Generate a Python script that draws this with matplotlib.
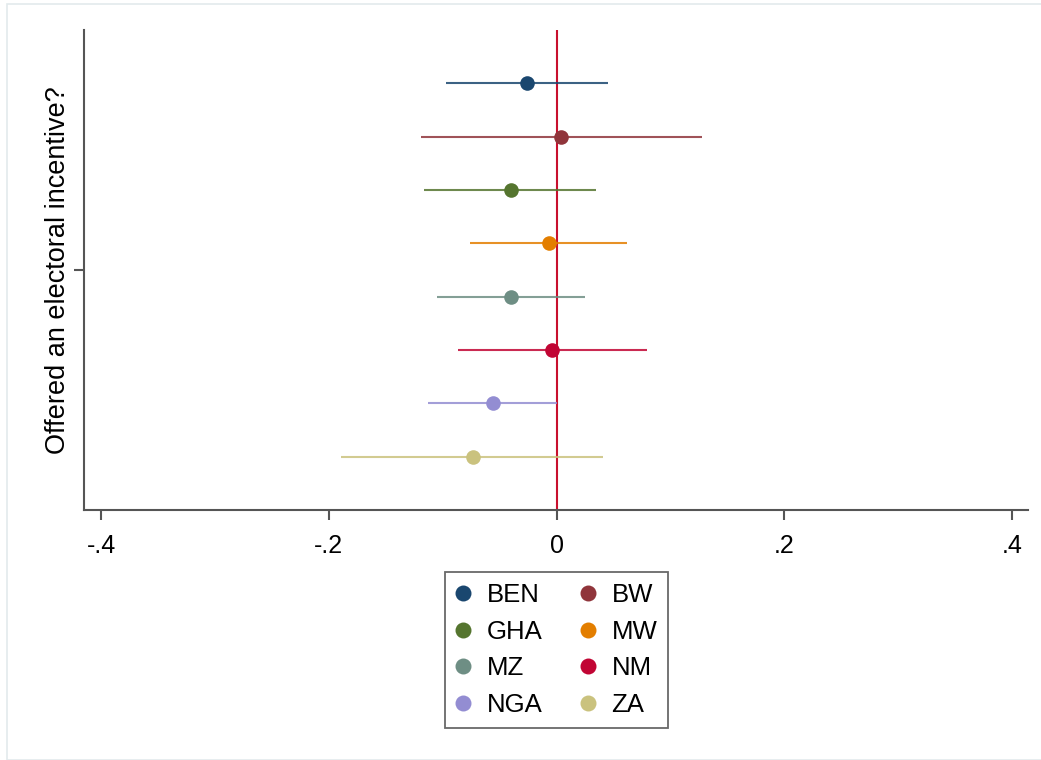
import matplotlib.pyplot as plt
from matplotlib.lines import Line2D
from matplotlib.patches import Rectangle

plt.rcParams['font.family'] = ['Liberation Sans', 'DejaVu Sans']

countries = ["BEN", "BW", "GHA", "MW", "MZ", "NM", "NGA", "ZA"]
coef = [-0.026, 0.004, -0.040, -0.007, -0.040, -0.004, -0.056, -0.073]
ci_low = [-0.097, -0.119, -0.116, -0.076, -0.105, -0.087, -0.113, -0.189]
ci_high = [0.045, 0.128, 0.035, 0.062, 0.025, 0.079, 0.000, 0.041]
colors = ["#1a476f", "#90353b", "#55752f", "#e37e00",
          "#6e8e84", "#c10534", "#938dd2", "#cac27e"]
xticks = [-0.4, -0.2, 0, 0.2, 0.4]
xticklabels = ["-.4", "-.2", "0", ".2", ".4"]

W, H = 1041, 760
fig = plt.figure(figsize=(W / 100, H / 100), dpi=100)
fig.patches.append(Rectangle((7 / W, 0), 1.0, 1 - 4 / H, transform=fig.transFigure,
                             fill=False, edgecolor="#e3eaec", linewidth=1.2))

ax = fig.add_axes([84 / W, 1 - 510 / H, (1028 - 84) / W, (510 - 30) / H])

ax.axvline(0, color="#c8102e", lw=1.5, zorder=1)
for i, c in enumerate(countries):
    y = i + 1
    ax.plot([ci_low[i], ci_high[i]], [y, y], color=colors[i], lw=1.5, alpha=0.85, zorder=2,
            solid_capstyle="butt")
    ax.plot(coef[i], y, "o", color=colors[i], markersize=10.5, markeredgewidth=0, zorder=3)

ax.set_ylim(9, 0)
ax.set_xlim(-0.415, 0.414)
ax.set_yticks([4.5])
ax.set_yticklabels([""])
ax.set_xticks(xticks)
ax.set_xticklabels(xticklabels, fontsize=18)
ax.set_ylabel("Offered an electoral incentive?", fontsize=19.5)
ax.yaxis.set_label_coords(-0.0138, 0.5)

for s in ["top", "right"]:
    ax.spines[s].set_visible(False)
for s in ["left", "bottom"]:
    ax.spines[s].set_color("#555555")
    ax.spines[s].set_linewidth(1.5)
ax.tick_params(axis="both", color="#555555", width=1.5, length=7, pad=10)

# legend is filled column by column, reference reads row by row
order = [0, 2, 4, 6, 1, 3, 5, 7]
handles = [Line2D([], [], marker="o", linestyle="none", color=colors[i],
                  markersize=11.5, markeredgewidth=0) for i in order]
labels = [countries[i] for i in order]
leg = fig.legend(handles, labels, loc="center", bbox_to_anchor=(556.5 / W, 1 - 650 / H),
                 ncol=2, fontsize=18.5, frameon=True, fancybox=False, handlelength=0.6,
                 handletextpad=0.6, columnspacing=1.5, labelspacing=0.5, borderpad=0.42)
leg.get_frame().set_edgecolor("#444444")
leg.get_frame().set_linewidth(1.3)

fig.savefig("out.png", dpi=100)
